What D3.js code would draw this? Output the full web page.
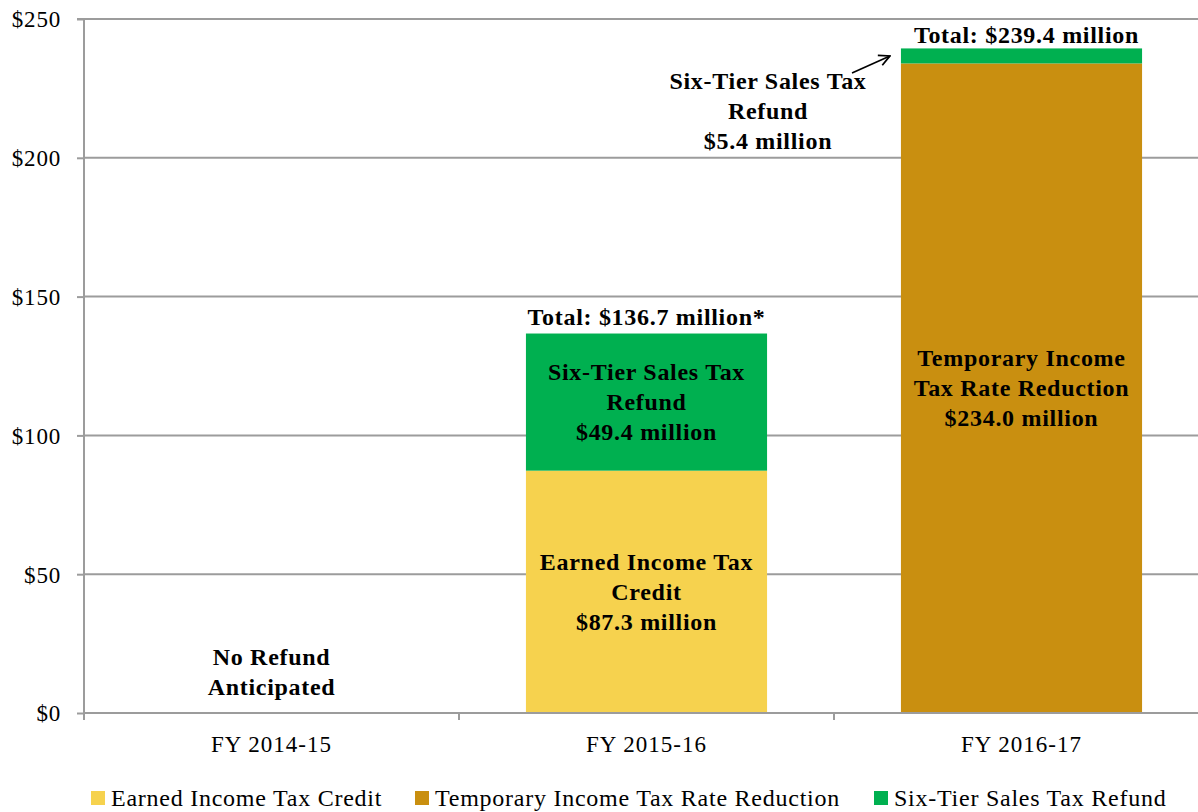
<!DOCTYPE html>
<html>
<head>
<meta charset="utf-8">
<script src="https://cdn.jsdelivr.net/npm/d3@7"></script>
<style>
  html, body { margin: 0; padding: 0; background: #fff; }
  svg { display: block; font-family: "Liberation Serif", "DejaVu Serif", serif; }
</style>
</head>
<body>
<svg id="chart" width="1198" height="812"></svg>
<script>
// Fiscal years on the x axis
const categories = ["FY 2014-15", "FY 2015-16", "FY 2016-17"];
// Series names, stacked bottom to top
const seriesNames = ["Earned Income Tax Credit", "Temporary Income Tax Rate Reduction", "Six-Tier Sales Tax Refund"];
// Values in $ millions per fiscal year
const eitcValues = [0, 87.3, 0];
const rateReductionValues = [0, 0, 234.0];
const sixTierValues = [0, 49.4, 5.4];
const seriesColors = ["#F6D24E", "#C98F10", "#00B050"];
// Y axis ticks
const yTicks = [0, 50, 100, 150, 200, 250];
// Total labels above bars
const totalLabels = ["", "Total: $136.7 million*", "Total: $239.4 million"];

const svg = d3.select("#chart");
const margin = { left: 84, right: 1209, top: 19, bottom: 713 };
const gridColor = "#9c9c9c";

const x = d3.scaleBand()
  .domain(categories)
  .range([margin.left, margin.right])
  .paddingInner(0.357)
  .paddingOuter(0.1785);

const y = d3.scaleLinear().domain([0, 250]).range([margin.bottom, margin.top]);

const rows = categories.map((c, i) => ({
  cat: c,
  "Earned Income Tax Credit": eitcValues[i],
  "Temporary Income Tax Rate Reduction": rateReductionValues[i],
  "Six-Tier Sales Tax Refund": sixTierValues[i]
}));
const stacked = d3.stack().keys(seriesNames)(rows);
const color = d3.scaleOrdinal().domain(seriesNames).range(seriesColors);

// Horizontal gridlines
svg.append("g")
  .selectAll("line")
  .data(yTicks.filter(d => d > 0))
  .join("line")
  .attr("x1", margin.left).attr("x2", 1198)
  .attr("y1", d => y(d)).attr("y2", d => y(d))
  .attr("stroke", gridColor).attr("stroke-width", 2);

// Bars
svg.append("g")
  .selectAll("g")
  .data(stacked)
  .join("g")
  .attr("fill", d => color(d.key))
  .selectAll("rect")
  .data(d => d.filter(p => p[1] - p[0] > 0))
  .join("rect")
  .attr("x", d => x(d.data.cat))
  .attr("width", x.bandwidth())
  .attr("y", d => y(d[1]))
  .attr("height", d => y(d[0]) - y(d[1]));

// Y axis
const yAxis = d3.axisLeft(y)
  .tickValues(yTicks)
  .tickFormat(d => "$" + d)
  .tickSize(7)
  .tickPadding(16);
const gy = svg.append("g").attr("transform", `translate(${margin.left},0)`).call(yAxis);
gy.select(".domain").attr("stroke", gridColor).attr("stroke-width", 2).attr("d", `M-7,${margin.top}H0V${margin.bottom}`);
gy.selectAll(".tick line").attr("stroke", gridColor).attr("stroke-width", 2);
gy.selectAll(".tick text")
  .attr("fill", "#000")
  .attr("dy", "0.34em")
  .style("font-size", "23px")
  .style("letter-spacing", "0.8px")
  .style("font-family", "'Liberation Serif', serif");

// X axis line with boundary ticks between categories
const xg = svg.append("g");
xg.append("line")
  .attr("x1", margin.left).attr("x2", 1198)
  .attr("y1", y(0)).attr("y2", y(0))
  .attr("stroke", gridColor).attr("stroke-width", 2);
const step = x.step();
const bounds = categories.map(c => x(c) - x.paddingInner() * step / 2);
xg.selectAll("line.b")
  .data(bounds)
  .join("line")
  .attr("class", "b")
  .attr("x1", d => d).attr("x2", d => d)
  .attr("y1", y(0)).attr("y2", y(0) + 7)
  .attr("stroke", gridColor).attr("stroke-width", 2);
xg.selectAll("text")
  .data(categories)
  .join("text")
  .attr("x", d => x(d) + x.bandwidth() / 2)
  .attr("y", 752)
  .attr("text-anchor", "middle")
  .style("font-size", "23px")
  .style("letter-spacing", "1px")
  .text(d => d);

// Multi-line bold labels
function label(lines, cx, firstY, lh) {
  const t = svg.append("text")
    .attr("text-anchor", "middle")
    .style("font-size", "24px")
    .style("letter-spacing", "0.7px")
    .style("font-weight", "bold");
  lines.forEach((s, i) => {
    t.append("tspan").attr("x", cx).attr("y", firstY + i * lh).text(s);
  });
}
const cx = c => x(c) + x.bandwidth() / 2;

// No refund note for the first year
label(["No Refund", "Anticipated"], cx(categories[0]), 665, 30);

// Segment labels, placed at the middle of their segments
const midEitc = y(eitcValues[1] / 2);
label(["Earned Income Tax", "Credit", "$" + eitcValues[1].toFixed(1) + " million"], cx(categories[1]), midEitc - 22, 30);
const midSix = y(eitcValues[1] + sixTierValues[1] / 2);
label(["Six-Tier Sales Tax", "Refund", "$" + sixTierValues[1].toFixed(1) + " million"], cx(categories[1]), midSix - 22, 30);
const midTemp = y(rateReductionValues[2] / 2);
label(["Temporary Income", "Tax Rate Reduction", "$" + rateReductionValues[2].toFixed(1) + " million"], cx(categories[2]), midTemp - 22, 30);

// Totals, kept inside the top of the plot area
[1, 2].forEach(i => {
  const tot = eitcValues[i] + rateReductionValues[i] + sixTierValues[i];
  svg.append("text")
    .attr("x", cx(categories[i]) + (i === 2 ? 5 : 0))
    .attr("y", Math.max(y(tot) - 9, margin.top + 24))
    .attr("text-anchor", "middle")
    .style("font-size", "24px")
    .style("letter-spacing", "0.7px")
    .style("font-weight", "bold")
    .text(totalLabels[i]);
});

// Callout for the small six-tier segment in the last year
label(["Six-Tier Sales Tax", "Refund", "$" + sixTierValues[2].toFixed(1) + " million"], 768, 89, 30);
const segMid = y(rateReductionValues[2] + sixTierValues[2] / 2);
svg.append("defs").append("marker")
  .attr("id", "arrow")
  .attr("viewBox", "0 0 12 12")
  .attr("refX", 11).attr("refY", 6)
  .attr("markerWidth", 13).attr("markerHeight", 13)
  .attr("markerUnits", "userSpaceOnUse")
  .attr("orient", "auto")
  .append("path")
  .attr("d", "M1,1L11,6L1,11")
  .attr("fill", "none").attr("stroke", "#000").attr("stroke-width", 1.6);
svg.append("line")
  .attr("x1", 852).attr("y1", 73)
  .attr("x2", x(categories[2]) - 11).attr("y2", segMid)
  .attr("stroke", "#000").attr("stroke-width", 1.6)
  .attr("marker-end", "url(#arrow)");

// Legend
const legendX = [91, 415, 874];
const lg = svg.append("g");
seriesNames.forEach((s, i) => {
  lg.append("rect")
    .attr("x", legendX[i]).attr("y", 791)
    .attr("width", 14).attr("height", 14)
    .attr("fill", seriesColors[i]);
  lg.append("text")
    .attr("x", legendX[i] + 20).attr("y", 806)
    .style("font-size", "24px")
    .style("letter-spacing", "0.75px")
    .text(s);
});
</script>
</body>
</html>
